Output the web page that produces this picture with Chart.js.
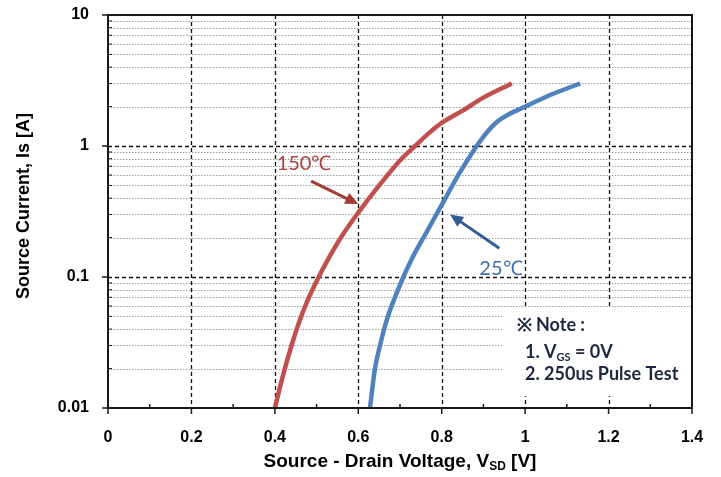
<!DOCTYPE html>
<html>
<head>
<meta charset="utf-8">
<script src="https://cdn.jsdelivr.net/npm/chart.js@4.4.1/dist/chart.umd.min.js"></script>
<style>
  html, body { margin: 0; padding: 0; background: #fff; }
  #wrap { width: 721px; height: 477px; }
</style>
</head>
<body>
<div id="wrap"><canvas id="chart" width="721" height="477"></canvas></div>
<script>
// data (Vsd in V, Is in A)
const v150 = [0.400, 0.420, 0.440, 0.460, 0.480, 0.500, 0.530, 0.560, 0.600, 0.650, 0.700, 0.736, 0.770, 0.800, 0.850, 0.900, 0.968];
const i150 = [0.010, 0.018, 0.030, 0.047, 0.068, 0.093, 0.141, 0.204, 0.310, 0.500, 0.776, 1.000, 1.260, 1.500, 1.860, 2.340, 3.000];
const v25 = [0.628, 0.640, 0.652, 0.670, 0.688, 0.708, 0.730, 0.760, 0.800, 0.840, 0.884, 0.910, 0.935, 0.960, 1.000, 1.060, 1.132];
const i25 = [0.010, 0.020, 0.030, 0.049, 0.070, 0.100, 0.141, 0.210, 0.355, 0.603, 1.000, 1.290, 1.550, 1.740, 2.000, 2.450, 3.000];

const xTicks = [0, 0.2, 0.4, 0.6, 0.8, 1, 1.2, 1.4];
const xTickLabels = ['0', '0.2', '0.4', '0.6', '0.8', '1', '1.2', '1.4'];
const yTicks = [0.01, 0.1, 1, 10];
const yTickLabels = ['0.01', '0.1', '1', '10'];

const RED = '#C0504D';
const BLUE = '#4F81BD';
const FONT = '"Liberation Sans", Arial, sans-serif';
const NOTE_FONT = 'Lato, "Open Sans", sans-serif';

function toPoints(xs, ys) {
  return xs.map((x, i) => ({x: x, y: ys[i]}));
}

// minor log positions 2..9 per decade
function minorLogs() {
  let out = [];
  [0.01, 0.1, 1].forEach(d => {
    for (let k = 2; k <= 9; k++) out.push(+(d * k).toPrecision(3));
  });
  return out;
}

function arrow(ctx, x1, y1, x2, y2, color) {
  const ang = Math.atan2(y2 - y1, x2 - x1);
  const len = 13, wid = 6;
  ctx.save();
  ctx.strokeStyle = color;
  ctx.fillStyle = color;
  ctx.lineWidth = 3;
  ctx.beginPath();
  ctx.moveTo(x1, y1);
  ctx.lineTo(x2 - Math.cos(ang) * len * 0.8, y2 - Math.sin(ang) * len * 0.8);
  ctx.stroke();
  ctx.beginPath();
  ctx.moveTo(x2, y2);
  ctx.lineTo(x2 - Math.cos(ang) * len - Math.sin(ang) * wid, y2 - Math.sin(ang) * len + Math.cos(ang) * wid);
  ctx.lineTo(x2 - Math.cos(ang) * len + Math.sin(ang) * wid, y2 - Math.sin(ang) * len - Math.cos(ang) * wid);
  ctx.closePath();
  ctx.fill();
  ctx.restore();
}

// grid, frame, ticks
const gridPlugin = {
  id: 'gridFrame',
  beforeDatasetsDraw(chart) {
    const {ctx, chartArea: a, scales: {x, y}} = chart;
    ctx.save();
    // minor y dotted
    ctx.strokeStyle = '#9a9a9a';
    ctx.lineWidth = 1;
    ctx.setLineDash([1.5, 1.5]);
    minorLogs().forEach(v => {
      const py = Math.round(y.getPixelForValue(v)) + 0.5;
      ctx.beginPath(); ctx.moveTo(a.left, py); ctx.lineTo(a.right, py); ctx.stroke();
    });
    // major dashed
    ctx.strokeStyle = '#111';
    ctx.lineWidth = 1.3;
    ctx.setLineDash([4, 3]);
    [0.1, 1].forEach(v => {
      const py = Math.round(y.getPixelForValue(v)) + 0.5;
      ctx.beginPath(); ctx.moveTo(a.left, py); ctx.lineTo(a.right, py); ctx.stroke();
    });
    xTicks.slice(1, -1).forEach(v => {
      const px = Math.round(x.getPixelForValue(v)) + 0.5;
      ctx.beginPath(); ctx.moveTo(px, a.top); ctx.lineTo(px, a.bottom); ctx.stroke();
    });
    ctx.setLineDash([]);

    // note box (covers the grid)
    const bx = x.getPixelForValue(0.945), by = y.getPixelForValue(0.057);
    ctx.fillStyle = '#fff';
    ctx.fillRect(bx, by, a.right - bx - 1, a.bottom - by - 12);
    ctx.restore();
  },
  afterDatasetsDraw(chart) {
    const {ctx, chartArea: a, scales: {x, y}} = chart;
    ctx.save();
    // frame
    ctx.strokeStyle = '#1a1a1a';
    ctx.lineWidth = 2;
    ctx.strokeRect(a.left, a.top, a.right - a.left, a.bottom - a.top);
    // x ticks
    ctx.lineWidth = 1.5;
    xTicks.forEach(v => {
      const px = x.getPixelForValue(v);
      ctx.beginPath(); ctx.moveTo(px, a.bottom); ctx.lineTo(px, a.bottom + 6); ctx.stroke();
    });
    for (let v = 0.1; v < 1.4; v += 0.2) {
      const px = x.getPixelForValue(v);
      ctx.beginPath(); ctx.moveTo(px, a.bottom); ctx.lineTo(px, a.bottom - 4); ctx.stroke();
    }
    // y ticks
    yTicks.forEach(v => {
      const py = y.getPixelForValue(v);
      ctx.beginPath(); ctx.moveTo(a.left - 6, py); ctx.lineTo(a.left, py); ctx.stroke();
    });
    ctx.lineWidth = 1;
    minorLogs().forEach(v => {
      const py = y.getPixelForValue(v);
      ctx.beginPath(); ctx.moveTo(a.left, py); ctx.lineTo(a.left + 4, py); ctx.stroke();
    });

    // curve labels + arrows
    ctx.textBaseline = 'middle';
    ctx.textAlign = 'center';
    ctx.font = '20px ' + NOTE_FONT;
    ctx.fillStyle = '#B0403D';
    ctx.fillText('150\u2103', x.getPixelForValue(0.47), y.getPixelForValue(0.74));
    arrow(ctx, x.getPixelForValue(0.487), y.getPixelForValue(0.54), x.getPixelForValue(0.6), y.getPixelForValue(0.36), '#A33B38');
    ctx.fillStyle = '#3A6EA8';
    ctx.fillText('25\u2103', x.getPixelForValue(0.942), y.getPixelForValue(0.117));
    arrow(ctx, x.getPixelForValue(0.938), y.getPixelForValue(0.166), x.getPixelForValue(0.82), y.getPixelForValue(0.30), '#2F5E96');

    // note
    ctx.textAlign = 'left';
    ctx.fillStyle = '#1C2640';
    ctx.font = 'bold 18px ' + NOTE_FONT;
    ctx.fillText('\u203B', 517, 325);
    ctx.fillText('Note :', 536, 325);
    ctx.fillText('1. V', 525, 352);
    let w = ctx.measureText('1. V').width;
    ctx.font = 'bold 11px ' + NOTE_FONT;
    ctx.fillText('GS', 525 + w, 357);
    let w2 = ctx.measureText('GS').width;
    ctx.font = 'bold 18px ' + NOTE_FONT;
    ctx.fillText(' = 0V', 525 + w + w2, 352);
    ctx.fillText('2. 250us Pulse Test', 525, 374);

    // axis titles
    ctx.fillStyle = '#000';
    ctx.font = 'bold 18px ' + FONT;
    ctx.save();
    ctx.translate(24, 206);
    ctx.rotate(-Math.PI / 2);
    ctx.textAlign = 'center';
    ctx.fillText('Source Current, Is [A]', 0, 0);
    ctx.restore();

    const t1 = 'Source - Drain Voltage, V', t2 = 'SD', t3 = ' [V]';
    ctx.font = 'bold 19px ' + FONT;
    const w1 = ctx.measureText(t1).width, w3 = ctx.measureText(t3).width;
    ctx.font = 'bold 12px ' + FONT;
    const ws = ctx.measureText(t2).width;
    let sx = 400 - (w1 + ws + w3) / 2;
    ctx.textAlign = 'left';
    ctx.font = 'bold 19px ' + FONT;
    ctx.fillText(t1, sx, 462);
    ctx.font = 'bold 12px ' + FONT;
    ctx.fillText(t2, sx + w1, 467);
    ctx.font = 'bold 19px ' + FONT;
    ctx.fillText(t3, sx + w1 + ws, 462);
    ctx.restore();
  }
};

new Chart(document.getElementById('chart'), {
  type: 'scatter',
  data: {
    datasets: [
      {
        label: '150\u2103',
        data: toPoints(v150, i150),
        showLine: true,
        borderColor: RED,
        borderWidth: 4.5,
        pointRadius: 0,
        cubicInterpolationMode: 'monotone'
      },
      {
        label: '25\u2103',
        data: toPoints(v25, i25),
        showLine: true,
        borderColor: BLUE,
        borderWidth: 4.5,
        pointRadius: 0,
        cubicInterpolationMode: 'monotone'
      }
    ]
  },
  options: {
    responsive: false,
    animation: false,
    events: [],
    layout: {padding: {left: 0, top: 15, right: 29, bottom: 0}},
    plugins: {legend: {display: false}, tooltip: {enabled: false}},
    scales: {
      x: {
        type: 'linear',
        min: 0,
        max: 1.4,
        afterBuildTicks: s => { s.ticks = xTicks.map(v => ({value: v})); },
        afterFit: s => { s.height = 69; s.paddingLeft = 0; s.paddingRight = 0; },
        grid: {display: false, drawTicks: false},
        border: {display: false},
        ticks: {
          color: '#000',
          padding: 20,
          maxRotation: 0,
          font: {family: FONT, size: 16, weight: 'bold'},
          callback: (v, i) => xTickLabels[i]
        }
      },
      y: {
        type: 'logarithmic',
        min: 0.01,
        max: 10,
        afterBuildTicks: s => { s.ticks = yTicks.map(v => ({value: v})); },
        afterFit: s => { s.width = 108; s.paddingTop = 0; s.paddingBottom = 0; },
        grid: {display: false, drawTicks: false},
        border: {display: false},
        ticks: {
          color: '#000',
          padding: 19,
          font: {family: FONT, size: 16, weight: 'bold'},
          callback: (v, i) => yTickLabels[i]
        }
      }
    }
  },
  plugins: [gridPlugin]
});
</script>
</body>
</html>
